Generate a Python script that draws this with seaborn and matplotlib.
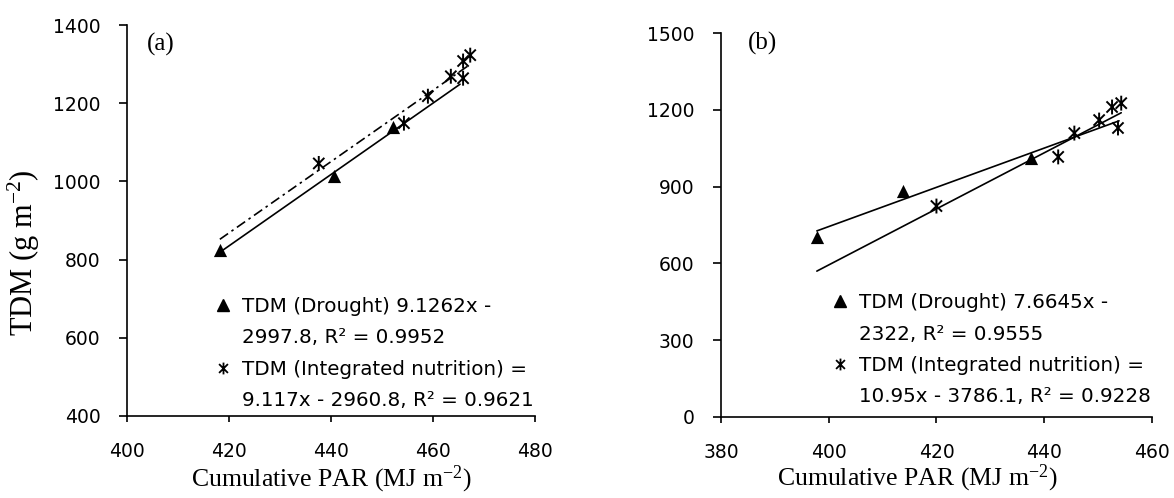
import numpy as np
import matplotlib
matplotlib.use('Agg')
import matplotlib.pyplot as plt
from matplotlib.path import Path
from matplotlib.lines import Line2D
import seaborn as sns

# panel (a)
a_drought_par = [418.2, 440.6, 452.2]
a_drought_tdm = [825, 1013, 1138]
a_integ_par = [437.6, 454.3, 459.0, 463.5, 465.9, 467.3, 465.9]
a_integ_tdm = [1046, 1149, 1218, 1269, 1308, 1323, 1264]
a_fit_drought = (9.1262, -2997.8)
a_fit_integ = (9.117, -2960.8)
a_fit_drought_range = [418.2, 465.3]
a_fit_integ_range = [418.2, 466.8]

# panel (b)
b_drought_par = [397.8, 413.7, 437.6]
b_drought_tdm = [703, 883, 1012]
b_integ_par = [420.0, 442.6, 445.6, 450.2, 452.6, 454.3, 453.7]
b_integ_tdm = [824, 1016, 1109, 1160, 1211, 1226, 1129]
b_fit_drought = (7.6645, -2322.0)
b_fit_integ = (10.95, -3786.1)
b_fit_drought_range = [397.8, 453.9]
b_fit_integ_range = [397.8, 454.3]

a_legend = ['TDM (Drought) 9.1262x -', '2997.8, R\u00b2 = 0.9952',
            'TDM (Integrated nutrition) =', '9.117x - 2960.8, R\u00b2 = 0.9621']
b_legend = ['TDM (Drought) 7.6645x -', '2322, R\u00b2 = 0.9555',
            'TDM (Integrated nutrition) =', '10.95x - 3786.1, R\u00b2 = 0.9228']

sns.set_theme(style='ticks')
plt.rcParams['font.family'] = ['DejaVu Sans']
plt.rcParams['mathtext.default'] = 'regular'
plt.rcParams['text.color'] = 'black'

# excel style asterisk: X plus vertical bar
star = Path([(0, -1), (0, 1), (-0.75, -0.75), (0.75, 0.75),
             (-0.75, 0.75), (0.75, -0.75)],
            [Path.MOVETO, Path.LINETO, Path.MOVETO, Path.LINETO,
             Path.MOVETO, Path.LINETO])

serif = 'Liberation Serif'
fig = plt.figure(figsize=(11.74, 4.98), dpi=100)
ax_a = fig.add_axes([0.1082, 0.1647, 0.3475, 0.785])
ax_b = fig.add_axes([0.6141, 0.1627, 0.3671, 0.771])


def draw_panel(ax, d_x, d_y, i_x, i_y, fit_d, fit_i, rng_d, rng_i,
               integ_style):
    xs = np.array(rng_d)
    sns.lineplot(x=xs, y=fit_d[0] * xs + fit_d[1], color='black',
                 linewidth=1.2, ax=ax)
    xs = np.array(rng_i)
    sns.lineplot(x=xs, y=fit_i[0] * xs + fit_i[1], color='black',
                 linewidth=1.2, linestyle=integ_style, ax=ax)
    sns.scatterplot(x=d_x, y=d_y, marker='^', s=90, color='black',
                    linewidth=0, ax=ax, zorder=3)
    sns.scatterplot(x=i_x, y=i_y, marker=star, s=115, color='black',
                    facecolor='none', edgecolor='black', linewidth=1.4,
                    ax=ax, zorder=3)


def add_legend(ax, labels, anchor):
    tri = Line2D([], [], marker='^', color='black', linestyle='',
                 markersize=8)
    st = Line2D([], [], marker=star, color='black', linestyle='',
                markersize=8.5, markerfacecolor='none', markeredgewidth=1.3)
    blank = Line2D([], [], linestyle='', marker='')
    ax.legend([tri, blank, st, blank], labels, loc='upper left',
              bbox_to_anchor=anchor, frameon=False, fontsize=14.3,
              handlelength=0.9, handletextpad=0.5, labelspacing=0.62,
              borderpad=0, borderaxespad=0, labelcolor='black')


draw_panel(ax_a, a_drought_par, a_drought_tdm, a_integ_par, a_integ_tdm,
           a_fit_drought, a_fit_integ, a_fit_drought_range,
           a_fit_integ_range, (0, (6, 2.5, 1.5, 2.5)))
draw_panel(ax_b, b_drought_par, b_drought_tdm, b_integ_par, b_integ_tdm,
           b_fit_drought, b_fit_integ, b_fit_drought_range,
           b_fit_integ_range, '-')

ax_a.set_xlim(400, 480)
ax_a.set_ylim(400, 1400)
ax_a.set_xticks(np.arange(400, 481, 20))
ax_a.set_yticks(np.arange(400, 1401, 200))
ax_b.set_xlim(380, 460)
ax_b.set_ylim(0, 1500)
ax_b.set_xticks(np.arange(380, 461, 20))
ax_b.set_yticks(np.arange(0, 1501, 300))

for ax in (ax_a, ax_b):
    sns.despine(ax=ax)
    for s in ('left', 'bottom'):
        ax.spines[s].set_color('black')
        ax.spines[s].set_linewidth(1.2)
    ax.tick_params(axis='both', direction='out', width=1.2, color='black',
                   labelsize=13.5, labelcolor='black')
    ax.tick_params(axis='x', length=4.5, pad=14)
    ax.tick_params(axis='y', length=6, pad=13)
    ax.set_xlabel('Cumulative PAR (MJ m$^{-2}$)', family=serif,
                  fontsize=18.5, color='black')

ax_a.xaxis.set_label_coords(0.5, -0.122)
ax_b.xaxis.set_label_coords(0.455, -0.12)
ax_a.set_ylabel('TDM (g m$^{-2}$)', family=serif, fontsize=22,
                color='black')
ax_a.yaxis.set_label_coords(-0.208, 0.417)
ax_b.set_ylabel('')

ax_a.text(0.049, 0.951, '(a)', transform=ax_a.transAxes, family=serif,
          fontsize=18, va='center', ha='left')
ax_b.text(0.063, 0.974, '(b)', transform=ax_b.transAxes, family=serif,
          fontsize=18, va='center', ha='left')

add_legend(ax_a, a_legend, (0.213, 0.304))
add_legend(ax_b, b_legend, (0.256, 0.322))

fig.savefig('out.png', dpi=100)
